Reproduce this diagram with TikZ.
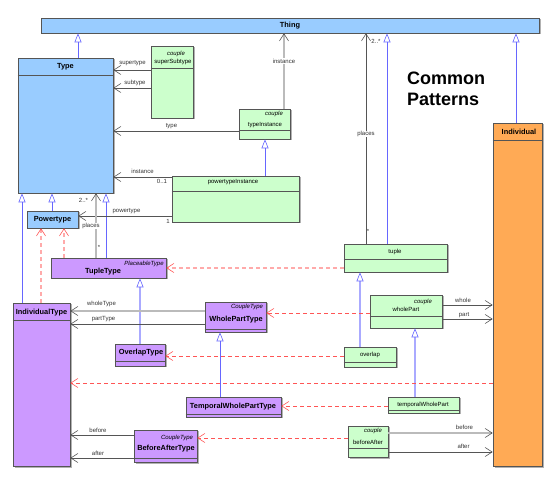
\documentclass[tikz,border=0pt]{standalone}
\usepackage{fontspec}
\setmainfont{Liberation Sans}
\usetikzlibrary{arrows.meta, positioning, fit, shadows}
\definecolor{blueFill}{HTML}{99CCFF}
\definecolor{greenFill}{HTML}{CCFFCC}
\definecolor{purpleFill}{HTML}{CC99FF}
\definecolor{orangeFill}{HTML}{FFAA55}
\definecolor{boxLine}{HTML}{555555}
\definecolor{assocGrey}{HTML}{555555}
\definecolor{assocLight}{HTML}{BBBBBB}
\definecolor{genBlue}{HTML}{6666FF}
\definecolor{genLight}{HTML}{AAAAFF}
\definecolor{realRed}{HTML}{FF5555}
\definecolor{realLight}{HTML}{FFAAAA}

\begin{document}
\begin{tikzpicture}[
        x=1pt, y=-1pt,
        box/.style={
          draw=boxLine,
          line width=0.6pt,
          inner sep=0pt,
          drop shadow={shadow xshift=1.5pt, shadow yshift=-1.5pt, fill=black!30, opacity=1}
        },
        sep/.style={draw=boxLine, line width=0.6pt},
        clsName/.style={font=\fontsize{7.4}{9}\selectfont\bfseries, inner sep=0pt},
        stereo/.style={font=\fontsize{6}{7}\selectfont\itshape, inner sep=0pt},
        clsText/.style={font=\fontsize{6}{7}\selectfont, inner sep=0pt},
        role/.style={font=\fontsize{6}{7}\selectfont, inner sep=0.5pt, text=black!80},
        assoc/.style={
          draw=assocGrey,
          line width=0.6pt,
          -{Straight Barb[length=7pt, width=9pt, line width=0.6pt, color=assocGrey]}
        },
        assocThick/.style={assoc, draw=assocLight, line width=1.5pt},
        gen/.style={
          draw=genBlue,
          line width=0.6pt,
          -{Triangle[open, length=9pt, width=7pt, line width=0.6pt, color=genBlue, fill=white]}
        },
        genThick/.style={gen, draw=genLight, line width=1.5pt},
        realize/.style={
          draw=realRed,
          line width=0.6pt,
          dash pattern=on 4pt off 3pt,
          -{Straight Barb[length=7pt, width=9pt, line width=0.6pt, color=realRed]}
        },
        realizeThick/.style={realize, draw=realLight, line width=1.2pt}
      ]
      \useasboundingbox (0,0) rectangle (555,481);

      % Classes
      \node[box, fill=blueFill, fit={(41,18) (539,33)}] (thing) {};
      \node[clsName] (thingName) at (290,25.5) {Thing};

      \node[box, fill=blueFill, fit={(18,58) (113,193)}] (type) {};
      \draw[sep] (type.west |- 0,75) -- (type.east |- 0,75);
      \node[clsName] (typeName) at (65.5,67) {Type};

      \node[box, fill=greenFill, fit={(151,46) (193,118)}] (superSubtype) {};
      \draw[sep] (superSubtype.west |- 0,68) -- (superSubtype.east |- 0,68);
      \node[stereo] (superSubtypeStereo) at (176,54) {couple};
      \node[clsText] (superSubtypeName) at (173,62) {superSubtype};

      \node[box, fill=greenFill, fit={(239,109) (290,139)}] (typeInstance) {};
      \draw[sep] (typeInstance.west |- 0,130) -- (typeInstance.east |- 0,130);
      \node[stereo] (typeInstanceStereo) at (274,114) {couple};
      \node[clsText] (typeInstanceName) at (265,125) {typeInstance};

      \node[box, fill=greenFill, fit={(172,176) (299,222)}] (powertypeInstance) {};
      \draw[sep] (powertypeInstance.west |- 0,191) -- (powertypeInstance.east |- 0,191);
      \node[clsText] (powertypeInstanceName) at (233,182) {powertypeInstance};

      \node[box, fill=blueFill, fit={(27,211) (78,228)}] (powertype) {};
      \node[clsName] (powertypeName) at (52.5,219.5) {Powertype};

      \node[box, fill=purpleFill, fit={(51,258) (166,278)}] (tupleType) {};
      \node[stereo] (tupleTypeStereo) at (144,264) {PlaceableType};
      \node[clsName] (tupleTypeName) at (103,272) {TupleType};

      \node[box, fill=purpleFill, fit={(13,303) (70,466)}] (individualType) {};
      \draw[sep] (individualType.west |- 0,320) -- (individualType.east |- 0,320);
      \node[clsName] (individualTypeName) at (41.5,313) {IndividualType};

      \node[box, fill=purpleFill, fit={(205,302) (266,332)}] (wholePartType) {};
      \draw[sep] (wholePartType.west |- 0,329) -- (wholePartType.east |- 0,329);
      \node[stereo] (wholePartTypeStereo) at (247,306.5) {CoupleType};
      \node[clsName] (wholePartTypeName) at (236,320) {WholePartType};

      \node[box, fill=purpleFill, fit={(115,344) (165,366)}] (overlapType) {};
      \draw[sep] (overlapType.west |- 0,361) -- (overlapType.east |- 0,361);
      \node[clsName] (overlapTypeName) at (141,353) {OverlapType};

      \node[box, fill=purpleFill, fit={(186,397) (281,417)}] (temporalWholePartType) {};
      \draw[sep] (temporalWholePartType.west |- 0,414) -- (temporalWholePartType.east |- 0,414);
      \node[clsName] (temporalWholePartTypeName) at (233,407) {TemporalWholePartType};

      \node[box, fill=purpleFill, fit={(134,430) (197,462)}] (beforeAfterType) {};
      \draw[sep] (beforeAfterType.west |- 0,458) -- (beforeAfterType.east |- 0,458);
      \node[stereo] (beforeAfterTypeStereo) at (177,438) {CoupleType};
      \node[clsName] (beforeAfterTypeName) at (166,449) {BeforeAfterType};

      \node[box, fill=orangeFill, fit={(493,123) (542,466)}] (individual) {};
      \draw[sep] (individual.west |- 0,140) -- (individual.east |- 0,140);
      \node[clsName] (individualName) at (519,132) {Individual};

      \node[box, fill=greenFill, fit={(344,244) (447,272)}] (tuple) {};
      \draw[sep] (tuple.west |- 0,259) -- (tuple.east |- 0,259);
      \node[clsText] (tupleName) at (395,252) {tuple};

      \node[box, fill=greenFill, fit={(370,295) (442,328)}] (wholePart) {};
      \draw[sep] (wholePart.west |- 0,316) -- (wholePart.east |- 0,316);
      \node[stereo] (wholePartStereo) at (423,302) {couple};
      \node[clsText] (wholePartName) at (406,309) {wholePart};

      \node[box, fill=greenFill, fit={(344,347) (396,367)}] (overlap) {};
      \draw[sep] (overlap.west |- 0,362) -- (overlap.east |- 0,362);
      \node[clsText] (overlapName) at (370,355) {overlap};

      \node[box, fill=greenFill, fit={(388,397) (459,413)}] (temporalWholePart) {};
      \draw[sep] (temporalWholePart.west |- 0,410) -- (temporalWholePart.east |- 0,410);
      \node[clsText] (temporalWholePartName) at (423,404.5) {temporalWholePart};

      \node[box, fill=greenFill, fit={(348,426) (388,457)}] (beforeAfter) {};
      \draw[sep] (beforeAfter.west |- 0,448) -- (beforeAfter.east |- 0,448);
      \node[stereo] (beforeAfterStereo) at (373,431) {couple};
      \node[clsText] (beforeAfterName) at (368,442) {beforeAfter};

      % Title
      \node[anchor=west, align=left, inner sep=0pt,
            font=\fontsize{18}{21}\selectfont\bfseries] (title) at (407,88.5) {Common\\Patterns};

      % Generalizations
      \draw[gen] (type.north -| 78,0) -- (thing.south -| 78,0);
      \draw[gen] (individual.north -| 516,0) -- (thing.south -| 516,0);
      \draw[gen] (tuple.north -| 387,0) -- (thing.south -| 387,0);
      \draw[gen] (powertypeInstance.north -| 265,0) -- (typeInstance.south -| 265,0);
      \draw[gen] (powertype.north -| 52,0) -- (type.south -| 52,0);
      \draw[gen] (individualType.north -| 22,0) -- (type.south -| 22,0);
      \draw[gen] (tupleType.north -| 106,0) -- (type.south -| 106,0);
      \draw[genThick] (overlapType.north -| 140,0) -- (tupleType.south -| 140,0);
      \draw[gen] (temporalWholePartType.north -| 220,0) -- (wholePartType.south -| 220,0);
      \draw[genThick] (overlap.north -| 360,0) -- (tuple.south -| 360,0);
      \draw[genThick] (temporalWholePart.north -| 415,0) -- (wholePart.south -| 415,0);

      % Associations
      \draw[assoc] (superSubtype.west |- 0,70) -- (type.east |- 0,70);
      \draw[assoc] (superSubtype.west |- 0,88) -- (type.east |- 0,88);
      \draw[assoc] (typeInstance.west |- 0,131) -- (type.east |- 0,131);
      \draw[assocThick] (typeInstance.north -| 284,0) -- (thing.south -| 284,0);
      \draw[assoc] (powertypeInstance.west |- 0,177) -- (type.east |- 0,177);
      \draw[assoc] (powertypeInstance.west |- 0,216) -- (powertype.east |- 0,216);
      \draw[assocThick] (tupleType.north -| 96,0) -- (type.south -| 96,0);
      \draw[assoc] (tuple.north -| 366,0) -- (thing.south -| 366,0);
      \draw[assocThick] (wholePartType.west |- 0,311) -- (individualType.east |- 0,311);
      \draw[assoc] (wholePartType.west |- 0,324) -- (individualType.east |- 0,324);
      \draw[assoc] (beforeAfterType.west |- 0,435) -- (individualType.east |- 0,435);
      \draw[assoc] (beforeAfterType.west |- 0,458) -- (individualType.east |- 0,458);
      \draw[assoc] (wholePart.east |- 0,305) -- (individual.west |- 0,305);
      \draw[assoc] (wholePart.east |- 0,319) -- (individual.west |- 0,319);
      \draw[assocThick] (beforeAfter.east |- 0,433) -- (individual.west |- 0,433);
      \draw[assoc] (beforeAfter.east |- 0,452) -- (individual.west |- 0,452);

      % Realizations
      \draw[realizeThick] (tuple.west |- 0,268) -- (tupleType.east |- 0,268);
      \draw[realizeThick] (individualType.north -| 41,0) -- (powertype.south -| 41,0);
      \draw[realizeThick] (tupleType.north -| 64,0) -- (powertype.south -| 64,0);
      \draw[realize] (wholePart.west |- 0,313) -- (wholePartType.east |- 0,313);
      \draw[realize] (overlap.west |- 0,356) -- (overlapType.east |- 0,356);
      \draw[realize] (individual.west |- 0,383) -- (individualType.east |- 0,383);
      \draw[realize] (temporalWholePart.west |- 0,406) -- (temporalWholePartType.east |- 0,406);
      \draw[realize] (beforeAfter.west |- 0,438) -- (beforeAfterType.east |- 0,438);

      % Role names and multiplicities
      \node[role] (supertypeLabel) at (132.5,63) {supertype};
      \node[role] (subtypeLabel) at (135,83) {subtype};
      \node[role] (typeLabel) at (171.5,126) {type};
      \node[role, fill=white] (instanceTop) at (284,61) {instance};
      \node[role] (instanceLabel) at (142.5,171) {instance};
      \node[role] (instanceMult) at (162,181) {0..1};
      \node[role] (powertypeLabel) at (126.5,211) {powertype};
      \node[role] (powertypeMult) at (168,221) {1};
      \node[role] (placesMultA) at (83.5,200) {2..*};
      \node[role, fill=white] (placesLabelA) at (91,226) {places};
      \node[role] (placesStarA) at (99,247) {*};
      \node[role] (placesMultB) at (376,41) {2..*};
      \node[role, fill=white] (placesLabelB) at (366,134) {places};
      \node[role] (placesStarB) at (368,231) {*};
      \node[role] (wholeTypeLabel) at (101.5,304) {wholeType};
      \node[role] (partTypeLabel) at (103.5,319) {partType};
      \node[role] (beforeTypeLabel) at (98,430) {before};
      \node[role] (afterTypeLabel) at (98,453) {after};
      \node[role] (wholeLabel) at (463,300) {whole};
      \node[role] (partLabel) at (464,315) {part};
      \node[role] (beforeLabel) at (464.5,427) {before};
      \node[role] (afterLabel) at (463.5,446) {after};

    \end{tikzpicture}
\end{document}
